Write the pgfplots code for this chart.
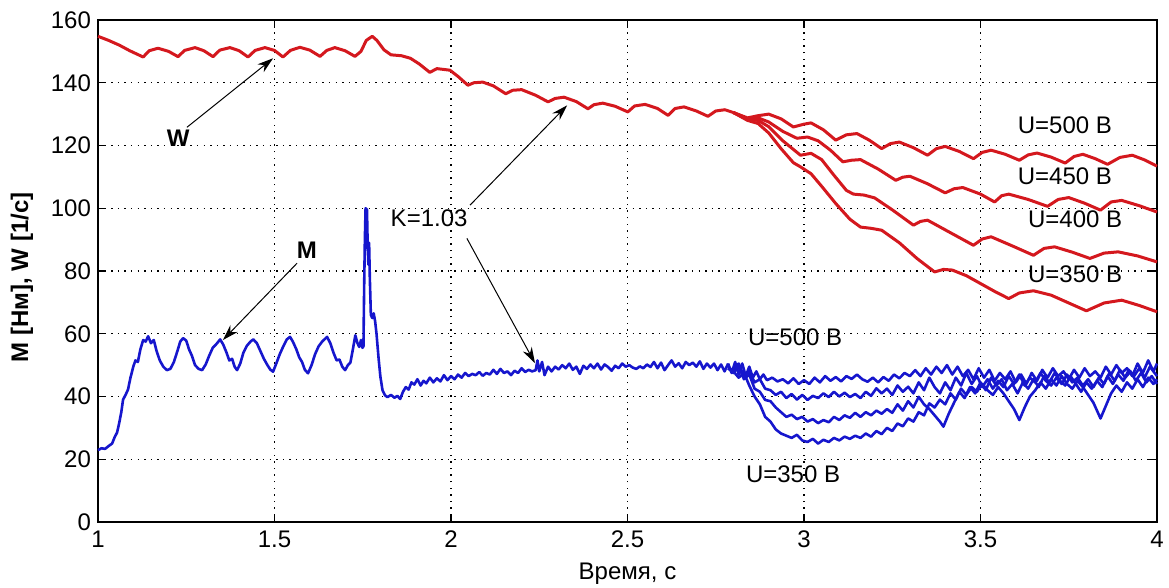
\documentclass[border=0pt]{standalone}
\usepackage{fontspec}
\setmainfont{Liberation Sans}
\usepackage{pgfplots}
\pgfplotsset{compat=1.18}
\usetikzlibrary{arrows.meta}

\definecolor{wred}{RGB}{212,24,30}
\definecolor{mblue}{RGB}{22,22,205}

\begin{document}
\begin{tikzpicture}[font=\fontsize{12}{14}\selectfont]
\begin{axis}[
    scale only axis,
    width=529.5pt, height=251pt,
    xmin=1, xmax=4, ymin=0, ymax=160,
    xtick={1,1.5,...,4}, ytick={0,20,...,160},
    /pgf/number format/assume math mode=true,
    tick label style={font=\fontsize{12}{14}\selectfont},
    xticklabel style={yshift=-1pt},
    xlabel={Время, с},
    xlabel style={at={(axis description cs:0.5,-0.1036)}, anchor=center},
    ylabel={M [Нм], W [1/с]},
    ylabel style={at={(axis description cs:-0.0718,0.4875)}, anchor=center,
        font=\bfseries\fontsize{12}{14}\selectfont},
    grid=major,
    major grid style={black, line width=0.6pt, dash pattern=on 0.7pt off 2.6pt},
    axis line style={black, line width=0.7pt},
    major tick length=4pt,
    tick style={black, line width=0.7pt},
    clip=false,
    every axis plot/.append style={line join=round},
]
% W, common part
\addplot[wred, line width=1.5pt] coordinates {
(1.000,154.8) (1.030,153.5) (1.060,152.0) (1.090,150.2) (1.128,148.2)
(1.145,150.2) (1.170,151.0) (1.200,150.0) (1.227,148.3)
(1.245,150.3) (1.275,151.2) (1.300,150.2) (1.326,148.3)
(1.345,150.4) (1.374,151.2) (1.400,150.2) (1.425,148.2)
(1.445,150.3) (1.473,151.2) (1.500,150.3) (1.524,148.2)
(1.545,150.3) (1.572,151.3) (1.600,150.4) (1.629,148.4)
(1.648,150.3) (1.671,151.2) (1.700,150.2) (1.728,148.4)
(1.745,150.0) (1.760,153.5) (1.777,154.8) (1.790,153.5) (1.810,150.5)
(1.830,148.9) (1.860,148.6) (1.885,147.8) (1.910,146.0) (1.940,143.3)
(1.960,144.5) (1.997,144.0) (2.020,142.0) (2.048,139.2)
(2.065,140.0) (2.090,140.2) (2.120,139.0) (2.155,136.5)
(2.175,137.6) (2.200,137.8) (2.240,136.0) (2.275,133.9)
(2.295,135.0) (2.320,135.4) (2.355,134.0) (2.388,131.7)
(2.405,133.0) (2.430,133.5) (2.465,132.5) (2.501,130.7)
(2.520,132.6) (2.550,133.1) (2.585,131.8) (2.615,129.6)
(2.635,131.8) (2.660,132.3) (2.695,131.0) (2.728,129.3)
(2.750,131.0) (2.776,131.4) (2.800,130.5)
};
% W branches
\addplot[wred, line width=1.5pt] coordinates {
(2.800,130.5) (2.840,128.8) (2.870,129.5) (2.900,130.0) (2.935,128.5)
(2.970,125.9) (3.000,126.8) (3.020,127.2) (3.055,125.0) (3.090,121.7)
(3.120,123.4) (3.150,123.8) (3.185,121.7) (3.220,119.0) (3.245,120.6)
(3.270,121.1) (3.310,119.3) (3.350,116.9) (3.375,119.0) (3.400,119.7)
(3.440,118.1) (3.480,115.8) (3.505,117.8) (3.530,118.5) (3.570,117.2)
(3.610,115.3) (3.635,117.0) (3.660,117.6) (3.700,116.3) (3.740,114.4)
(3.765,116.5) (3.790,117.2) (3.825,115.8) (3.860,114.0) (3.895,116.2)
(3.930,116.9) (3.965,115.4) (4.000,113.4)
};
\addplot[wred, line width=1.5pt] coordinates {
(2.800,130.5) (2.840,128.5) (2.870,128.8) (2.900,127.5) (2.940,124.5)
(2.980,122.3) (3.010,122.7) (3.040,121.5) (3.075,118.5) (3.110,114.8)
(3.135,115.3) (3.160,115.5) (3.210,112.5) (3.260,108.9) (3.280,109.9)
(3.300,110.2) (3.350,107.8) (3.400,104.9) (3.425,106.2) (3.450,106.6)
(3.500,104.5) (3.540,102.0) (3.560,104.0) (3.580,104.5) (3.635,102.8)
(3.690,100.6) (3.720,102.8) (3.750,103.4) (3.795,101.6) (3.840,99.4)
(3.870,102.0) (3.900,102.5) (3.950,100.8) (4.000,98.8)
};
\addplot[wred, line width=1.5pt] coordinates {
(2.800,130.5) (2.840,128.3) (2.870,128.0) (2.900,126.0) (2.940,121.5)
(2.990,116.9) (3.020,117.5) (3.050,115.5) (3.085,110.5) (3.120,105.7)
(3.140,104.5) (3.170,104.2) (3.200,103.3) (3.250,99.5) (3.310,94.6)
(3.330,95.8) (3.350,96.2) (3.410,92.5) (3.480,88.2) (3.505,90.2)
(3.530,90.9) (3.590,88.0) (3.650,85.0) (3.680,87.2) (3.710,87.7)
(3.760,86.0) (3.810,84.0) (3.850,85.7) (3.890,86.1) (3.945,84.8)
(4.000,82.9)
};
\addplot[wred, line width=1.5pt] coordinates {
(2.800,130.5) (2.840,128.0) (2.870,127.0) (2.900,124.0) (2.935,119.0)
(2.970,114.5) (2.990,113.2) (3.020,111.0) (3.050,107.0) (3.090,101.5)
(3.130,96.5) (3.160,94.0) (3.190,93.6) (3.220,93.0) (3.270,89.0)
(3.320,84.0) (3.370,79.7) (3.395,80.5) (3.420,80.3) (3.460,78.5)
(3.500,76.0) (3.540,73.5) (3.580,71.2) (3.610,73.0) (3.650,73.7)
(3.700,72.3) (3.750,69.8) (3.800,67.3) (3.850,69.8) (3.900,70.7)
(3.950,69.0) (4.000,67.0)
};
% M, common part
\addplot[mblue, line width=1.3pt] coordinates {
(1.000,22.9) (1.010,23.5) (1.020,23.3) (1.030,24.2) (1.040,25.0) (1.047,27.0)
(1.054,28.5) (1.060,31.5) (1.066,35.0) (1.071,39.0) (1.078,40.5) (1.085,42.2)
(1.092,46.0) (1.100,49.5) (1.106,51.5) (1.113,51.0) (1.120,55.0) (1.128,58.0)
(1.135,57.5) (1.142,59.2) (1.150,57.0) (1.158,58.0) (1.166,54.5) (1.175,51.5)
(1.185,49.5) (1.195,48.4) (1.205,48.8) (1.215,51.0) (1.225,54.5) (1.233,57.5)
(1.241,58.6) (1.250,57.8) (1.258,55.0) (1.266,53.0) (1.275,50.0) (1.285,48.8)
(1.295,48.4) (1.305,50.2) (1.315,53.0) (1.325,55.5) (1.336,56.8) (1.346,58.2)
(1.355,56.5) (1.364,54.0) (1.372,51.5) (1.380,52.0) (1.387,49.5) (1.394,48.4)
(1.403,50.5) (1.412,54.0) (1.422,56.2) (1.432,57.5) (1.440,58.2) (1.450,57.0)
(1.460,54.5) (1.470,52.0) (1.480,50.0) (1.488,48.6) (1.496,47.9) (1.505,50.5)
(1.515,53.5) (1.525,56.0) (1.535,58.2) (1.544,59.0) (1.552,57.5) (1.562,55.0)
(1.570,52.5) (1.578,51.0) (1.586,48.5) (1.595,47.4) (1.605,50.0) (1.615,53.5)
(1.625,56.0) (1.635,57.5) (1.649,59.0) (1.658,57.0) (1.667,54.0) (1.676,51.5)
(1.684,51.8) (1.692,49.5) (1.700,48.4) (1.708,50.0) (1.715,50.8) (1.722,55.0)
(1.729,59.5) (1.735,57.0) (1.740,55.8) (1.745,58.0) (1.749,55.5) (1.752,56.0)
(1.754,75.0) (1.756,90.0) (1.758,100.0) (1.762,99.5) (1.764,88.0) (1.766,82.0)
(1.768,89.0) (1.770,78.0) (1.773,66.0) (1.777,65.0) (1.781,66.5) (1.785,64.0)
(1.789,60.0) (1.795,52.0) (1.800,46.3) (1.806,42.0) (1.813,40.4) (1.820,39.8)
(1.830,40.5) (1.840,39.6) (1.848,40.2) (1.856,39.2) (1.864,41.5) (1.872,43.0)
(1.880,42.2) (1.888,44.5) (1.896,43.8) (1.905,45.5) (1.914,43.5) (1.922,45.0)
(1.930,44.2) (1.940,46.0) (1.950,44.5) (1.960,45.8) (1.970,44.8) (1.980,46.8)
(1.990,45.2) (2.000,46.5) (2.010,45.5) (2.020,47.0) (2.030,46.0) (2.040,47.5)
(2.050,46.5) (2.060,47.2) (2.070,46.8) (2.080,47.8) (2.090,46.6) (2.100,47.5)
(2.110,47.0) (2.120,48.5) (2.130,47.2) (2.140,48.8) (2.150,47.5) (2.160,48.0)
(2.170,46.8) (2.180,48.2) (2.190,47.5) (2.200,49.0) (2.210,47.8) (2.220,48.5)
(2.230,48.0) (2.240,48.4) (2.245,51.5) (2.250,48.0) (2.258,51.0) (2.265,46.8)
(2.275,49.5) (2.285,48.0) (2.295,49.5) (2.305,48.6) (2.315,50.0) (2.325,49.0)
(2.335,50.5) (2.345,48.5) (2.355,49.5) (2.365,47.2) (2.375,49.8) (2.385,48.8)
(2.395,50.2) (2.405,49.0) (2.415,50.5) (2.425,48.6) (2.435,50.2) (2.445,49.4)
(2.455,48.2) (2.465,49.8) (2.475,49.0) (2.485,50.5) (2.495,49.5) (2.505,50.0)
(2.515,49.2) (2.525,48.8) (2.535,49.6) (2.545,49.0) (2.555,50.2) (2.565,49.4)
(2.575,51.0) (2.585,49.0) (2.595,50.8) (2.605,48.4) (2.615,50.0) (2.625,51.5)
(2.635,49.5) (2.645,50.6) (2.655,49.0) (2.665,51.0) (2.675,50.0) (2.685,50.8)
(2.695,49.5) (2.705,51.2) (2.715,48.8) (2.725,50.5) (2.735,49.2) (2.745,50.5)
(2.755,48.4) (2.765,50.2) (2.775,48.0) (2.785,50.5)
};
% M branches
\addplot[mblue, line width=1.3pt] coordinates {
(2.785,50.5) (2.795,47.5) (2.805,51.0) (2.815,47.0) (2.825,50.5) (2.835,46.5)
(2.845,49.5) (2.855,46.0) (2.865,48.0) (2.875,45.5) (2.885,47.0) (2.895,45.2)
(2.910,46.0) (2.925,44.8) (2.940,45.5) (2.955,44.2) (2.970,45.8) (2.985,44.0)
(3.000,45.2) (3.015,44.0) (3.030,46.0) (3.045,44.5) (3.060,46.5) (3.075,45.0)
(3.090,46.2) (3.105,44.8) (3.120,46.5) (3.135,45.6) (3.150,47.0) (3.165,45.5)
(3.180,44.7) (3.195,46.0) (3.210,44.5) (3.225,46.2) (3.240,45.0) (3.255,47.0)
(3.270,45.8) (3.285,47.5) (3.300,46.5) (3.315,48.4) (3.330,46.5) (3.345,49.0)
(3.360,47.0) (3.375,49.5) (3.390,47.5) (3.405,50.0) (3.420,47.0) (3.435,49.5)
(3.450,46.5) (3.465,48.5) (3.480,45.5) (3.495,49.0) (3.510,46.0) (3.525,48.5)
(3.540,45.0) (3.555,47.5) (3.570,45.5) (3.585,48.0) (3.600,44.5) (3.615,47.0)
(3.630,44.0) (3.645,47.5) (3.660,45.0) (3.675,48.5) (3.690,46.0) (3.705,49.0)
(3.720,46.5) (3.735,48.0) (3.750,45.5) (3.765,48.5) (3.780,46.0) (3.795,49.0)
(3.810,46.5) (3.825,48.0) (3.840,46.0) (3.855,49.5) (3.870,47.0) (3.885,50.0)
(3.900,47.5) (3.915,49.0) (3.930,46.5) (3.945,50.5) (3.960,47.5) (3.975,51.5)
(3.990,48.0) (4.000,50.5)
};
\addplot[mblue, line width=1.3pt] coordinates {
(2.785,49.0) (2.800,48.5) (2.815,50.5) (2.830,46.5) (2.845,48.0) (2.860,44.5)
(2.875,45.5) (2.890,42.5) (2.905,42.0) (2.920,40.5) (2.935,41.5) (2.950,39.5)
(2.965,40.8) (2.980,39.0) (2.995,40.5) (3.010,38.9) (3.025,40.2) (3.040,39.5)
(3.055,41.0) (3.070,39.8) (3.085,41.5) (3.100,40.0) (3.115,41.2) (3.130,39.8)
(3.145,40.8) (3.160,39.5) (3.175,41.5) (3.190,40.2) (3.205,42.6) (3.220,41.0)
(3.235,42.5) (3.250,40.5) (3.265,43.5) (3.280,41.5) (3.295,43.1) (3.310,41.0)
(3.325,44.5) (3.340,42.0) (3.355,46.0) (3.370,43.0) (3.385,41.0) (3.400,44.5)
(3.415,42.0) (3.430,46.0) (3.445,43.5) (3.460,47.5) (3.475,44.0) (3.490,46.5)
(3.505,43.0) (3.520,45.5) (3.535,42.5) (3.550,45.0) (3.565,43.0) (3.580,46.5)
(3.595,44.0) (3.610,47.0) (3.625,43.5) (3.640,46.0) (3.655,44.5) (3.670,47.5)
(3.685,45.0) (3.700,43.5) (3.715,46.0) (3.730,44.0) (3.745,47.0) (3.760,44.5)
(3.775,46.0) (3.790,43.5) (3.805,45.5) (3.820,43.0) (3.835,46.0) (3.850,44.0)
(3.865,47.5) (3.880,45.0) (3.895,48.5) (3.910,46.0) (3.925,48.0) (3.940,45.0)
(3.955,47.5) (3.970,44.5) (3.985,46.5) (4.000,44.0)
};
\addplot[mblue, line width=1.3pt] coordinates {
(2.785,49.0) (2.800,47.5) (2.815,49.5) (2.830,45.5) (2.845,47.0) (2.860,42.5)
(2.875,41.5) (2.890,38.9) (2.905,38.5) (2.920,36.5) (2.935,35.0) (2.950,33.5)
(2.965,34.2) (2.980,32.8) (2.995,33.5) (3.010,32.0) (3.025,32.8) (3.040,31.5)
(3.055,32.5) (3.070,31.8) (3.085,33.5) (3.100,32.5) (3.115,34.0) (3.130,33.2)
(3.145,34.8) (3.160,33.5) (3.175,35.0) (3.190,34.0) (3.205,35.5) (3.220,34.5)
(3.235,36.0) (3.250,34.8) (3.265,37.5) (3.280,35.5) (3.295,38.5) (3.310,36.5)
(3.325,39.9) (3.340,37.5) (3.355,36.0) (3.370,34.0) (3.385,32.0) (3.395,30.4)
(3.410,34.5) (3.425,38.0) (3.440,41.5) (3.455,39.5) (3.470,43.0) (3.485,41.0)
(3.500,44.5) (3.515,42.0) (3.530,46.0) (3.545,43.5) (3.560,45.5) (3.575,42.0)
(3.590,44.0) (3.605,41.0) (3.620,44.5) (3.635,42.5) (3.650,45.5) (3.665,43.0)
(3.680,46.5) (3.695,44.5) (3.710,47.5) (3.725,45.0) (3.740,43.5) (3.755,46.5)
(3.770,44.0) (3.785,41.5) (3.800,44.5) (3.815,42.5) (3.830,45.0) (3.845,43.0)
(3.860,46.5) (3.875,44.0) (3.890,47.0) (3.905,45.0) (3.920,48.5) (3.935,46.5)
(3.950,49.0) (3.965,46.0) (3.980,49.5) (4.000,46.5)
};
\addplot[mblue, line width=1.3pt] coordinates {
(2.785,49.0) (2.800,48.0) (2.815,46.0) (2.830,47.5) (2.845,43.5) (2.860,40.0)
(2.875,37.5) (2.890,33.5) (2.905,32.0) (2.920,29.5) (2.935,28.2) (2.950,27.5)
(2.965,26.8) (2.980,27.8) (2.995,26.0) (3.010,25.5) (3.025,26.5) (3.040,25.0)
(3.055,26.2) (3.070,25.5) (3.085,26.8) (3.100,26.0) (3.115,27.2) (3.130,26.5)
(3.145,27.5) (3.160,26.8) (3.175,28.2) (3.190,27.2) (3.205,29.0) (3.220,28.0)
(3.235,30.0) (3.250,29.0) (3.265,31.4) (3.280,30.5) (3.295,33.0) (3.310,32.0)
(3.325,35.0) (3.340,34.0) (3.355,37.8) (3.370,36.5) (3.385,39.0) (3.400,37.5)
(3.415,41.0) (3.430,39.0) (3.445,42.5) (3.460,40.5) (3.475,43.0) (3.490,41.5)
(3.505,44.0) (3.520,42.0) (3.535,40.5) (3.550,43.0) (3.565,41.0) (3.580,38.5)
(3.595,36.0) (3.610,32.5) (3.625,36.5) (3.640,40.0) (3.655,42.0) (3.670,44.5)
(3.685,42.5) (3.700,45.5) (3.715,43.5) (3.730,46.5) (3.745,44.0) (3.760,42.5)
(3.775,45.0) (3.790,43.0) (3.805,40.5) (3.820,38.0) (3.840,33.0) (3.855,37.0)
(3.870,41.0) (3.885,43.5) (3.900,41.5) (3.915,44.5) (3.930,42.5) (3.945,45.5)
(3.960,43.0) (3.975,46.0) (3.990,44.0) (4.000,45.5)
};

% annotations
\tikzset{ann/.style={black, line width=0.5pt, -{Stealth[length=8pt,width=5pt]}}}
\node[font=\bfseries\fontsize{12}{14}\selectfont] at (axis cs:1.227,122.3) {W};
\draw[ann] (axis cs:1.252,125.8) -- (axis cs:1.496,147.8);
\node[font=\bfseries\fontsize{12}{14}\selectfont] at (axis cs:1.592,86.6) {M};
\draw[ann] (axis cs:1.564,82.5) -- (axis cs:1.354,58.0);
\node at (axis cs:1.938,96.8) {K=1.03};
\draw[ann] (axis cs:2.054,101.0) -- (axis cs:2.329,132.8);
\draw[ann] (axis cs:2.045,90.4) -- (axis cs:2.238,50.6);
\node at (axis cs:3.739,126.4) {U=500 В};
\node at (axis cs:3.739,110.2) {U=450 В};
\node at (axis cs:3.768,96.5) {U=400 В};
\node at (axis cs:3.768,79.0) {U=350 В};
\node at (axis cs:2.975,58.9) {U=500 В};
\node at (axis cs:2.969,15.3) {U=350 В};
\end{axis}
\pgfresetboundingbox
\path (-49pt,-33pt) rectangle (535.5pt,261pt);
\end{tikzpicture}
\end{document}
